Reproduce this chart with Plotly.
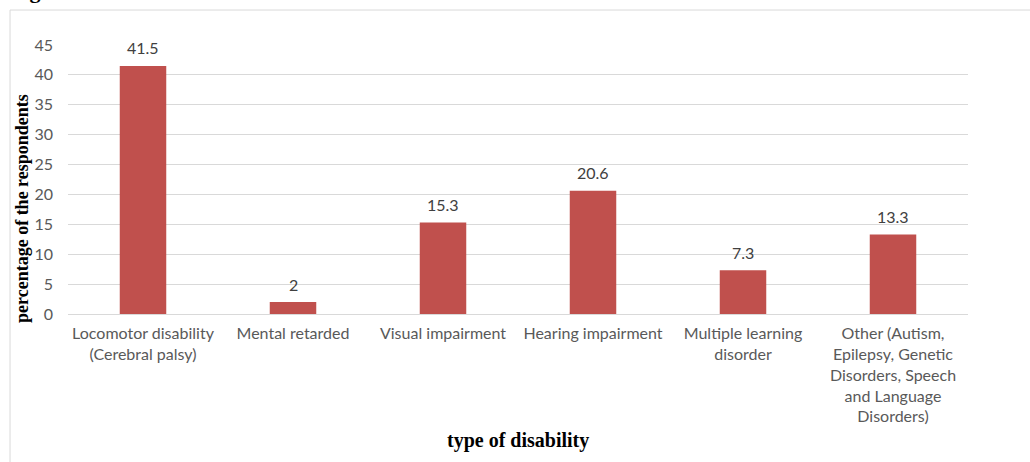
import plotly.graph_objects as go

categories = [
    "Locomotor disability<br>(Cerebral palsy)",
    "Mental retarded",
    "Visual impairment",
    "Hearing impairment",
    "Multiple learning<br>disorder",
    "Other (Autism,<br>Epilepsy, Genetic<br>Disorders, Speech<br>and Language<br>Disorders)",
]
values = [41.5, 2, 15.3, 20.6, 7.3, 13.3]
y_ticks = [0, 5, 10, 15, 20, 25, 30, 35, 40, 45]

FONT = "Lato, Carlito, sans-serif"
SERIF = "Liberation Serif, Times New Roman, serif"

fig = go.Figure()
fig.add_trace(go.Bar(
    x=categories, y=values,
    marker=dict(color="#C0504D", line=dict(width=0)),
    width=0.31,
))

label_anns = [
    dict(x=c, y=v, xref="x", yref="y", text=str(v), showarrow=False,
         xanchor="center", yanchor="middle", yshift=18,
         font=dict(family=FONT, size=16, color="#404040"))
    for c, v in zip(categories, values)
]

fig.update_layout(
    width=1030, height=462,
    margin=dict(l=68, r=62, t=45, b=148),
    paper_bgcolor="white", plot_bgcolor="white",
    showlegend=False,
    font=dict(family=FONT, size=16, color="#595959"),
    xaxis=dict(
        showgrid=False, showline=True, linecolor="#d9d9d9", linewidth=1,
        ticks="", ticklabelstandoff=5,
        tickfont=dict(size=16, color="#595959"),
    ),
    yaxis=dict(
        range=[0, 45], tickvals=y_ticks, showgrid=True, gridcolor="#d9d9d9",
        zeroline=False, showline=False, ticks="", ticklabelstandoff=14,
        tickfont=dict(size=16, color="#595959"),
    ),
    shapes=[
        dict(type="line", xref="paper", yref="paper", x0=-0.0644, x1=1.2,
             y0=1.130, y1=1.130, line=dict(color="#d9d9d9", width=1)),
        dict(type="line", xref="paper", yref="paper", x0=-0.0644, x1=-0.0644,
             y0=1.130, y1=-0.6, line=dict(color="#d9d9d9", width=1)),
    ],
    annotations=label_anns + [
        dict(text="<b>percentage of the respondents</b>", textangle=-90,
             xref="paper", yref="paper", x=(22 - 68) / 900, y=(314 - 209) / 269,
             showarrow=False, xanchor="center", yanchor="middle",
             font=dict(family=SERIF, size=18, color="black")),
        dict(text="<b>type of disability</b>",
             xref="paper", yref="paper", x=(518 - 68) / 900, y=(314 - 440) / 269,
             showarrow=False, xanchor="center", yanchor="middle",
             font=dict(family=SERIF, size=20, color="black")),
        dict(text="<b>Fig</b>",
             xref="paper", yref="paper", x=(8 - 68) / 900, y=1 + (45 - 5) / 269,
             showarrow=False, xanchor="left", yanchor="bottom",
             font=dict(family=SERIF, size=22, color="black")),
    ],
)

fig.write_html("out.html")
